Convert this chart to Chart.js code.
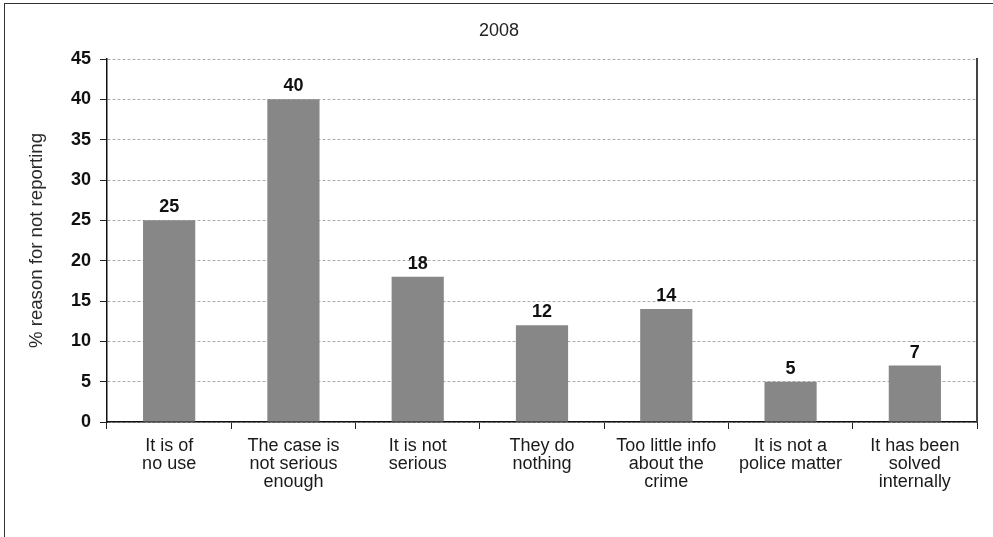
<!DOCTYPE html>
<html>
<head>
<meta charset="utf-8">
<script src="https://cdn.jsdelivr.net/npm/chart.js@4.4.1/dist/chart.umd.min.js"></script>
<style>
  html, body { margin: 0; padding: 0; background: #fff; }
  #wrap { position: relative; width: 993px; height: 537px; overflow: hidden; }
  #frame { position: absolute; left: 4px; top: 3px; width: 1200px; height: 800px;
           border-left: 1px solid #333; border-top: 1px solid #333; }
  canvas { position: absolute; left: 0; top: 0; }
</style>
</head>
<body>
<div id="wrap">
  <div id="frame"></div>
  <canvas id="c" width="993" height="537"></canvas>
</div>
<script>
// Reasons given for not reporting a crime, 2008
const chartTitle = '2008';
const yAxisTitle = '% reason for not reporting';
const categories = [
  ['It is of', 'no use'],
  ['The case is', 'not serious', 'enough'],
  ['It is not', 'serious'],
  ['They do', 'nothing'],
  ['Too little info', 'about the', 'crime'],
  ['It is not a', 'police matter'],
  ['It has been', 'solved', 'internally']
];
const percentages = [25, 40, 18, 12, 14, 5, 7];
const yMin = 0, yMax = 45, yStep = 5;

const FONT = '"Liberation Sans", Arial, Helvetica, sans-serif';

// Value labels above each bar and the chart heading
const annotate = {
  id: 'annotate',
  afterDatasetsDraw(chart) {
    const ctx = chart.ctx;
    const meta = chart.getDatasetMeta(0);
    ctx.save();
    ctx.font = 'bold 18px ' + FONT;
    ctx.fillStyle = '#111';
    ctx.textAlign = 'center';
    ctx.textBaseline = 'bottom';
    meta.data.forEach((bar, i) => {
      ctx.fillText(String(percentages[i]), bar.x, bar.y - 4);
    });
    ctx.font = '18px ' + FONT;
    ctx.fillStyle = '#222';
    ctx.textBaseline = 'middle';
    ctx.fillText(chartTitle, 499, 31);
    ctx.restore();
  }
};

new Chart(document.getElementById('c'), {
  type: 'bar',
  data: {
    labels: categories,
    datasets: [{
      data: percentages,
      backgroundColor: '#878787',
      borderWidth: 0,
      categoryPercentage: 1,
      barPercentage: 0.42
    }]
  },
  options: {
    responsive: false,
    animation: false,
    layout: { padding: { left: 0, top: 59, right: 16, bottom: 0 } },
    plugins: { legend: { display: false }, tooltip: { enabled: false }, title: { display: false } },
    scales: {
      x: {
        grid: { display: true, drawOnChartArea: false, drawTicks: true, tickLength: 7, color: '#222', offset: true },
        border: { display: true, color: '#111', width: 1.5 },
        ticks: { color: '#1a1a1a', font: { family: FONT, size: 18, lineHeight: 1.0 }, padding: 8, maxRotation: 0, autoSkip: false },
        afterFit(s) { s.height = 537 - 422; }
      },
      y: {
        min: yMin, max: yMax,
        ticks: { stepSize: yStep, color: '#111', font: { family: FONT, size: 18, weight: 'bold' }, padding: 9 },
        grid: { color: '#ababab', lineWidth: 1, drawTicks: true, tickLength: 7, tickColor: '#222' },
        border: { display: true, color: '#111', width: 1.5, dash: [3, 2] },
        title: { display: true, text: yAxisTitle, color: '#2a2a2a', font: { family: FONT, size: 18.6 }, padding: { top: 26, bottom: 0 } },
        afterFit(s) { s.width = 107; }
      },
      y2: {
        position: 'right',
        min: yMin, max: yMax,
        ticks: { display: false },
        grid: { display: false },
        border: { display: true, color: '#444', width: 2 },
        afterFit(s) { s.width = 0; }
      }
    }
  },
  plugins: [annotate]
});
</script>
</body>
</html>
